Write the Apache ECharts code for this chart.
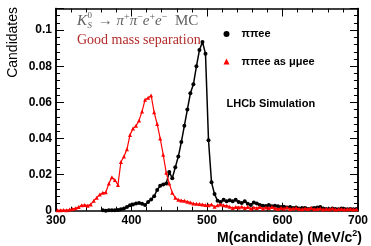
<!DOCTYPE html>
<html>
<head>
<meta charset="utf-8">
<script src="https://cdn.jsdelivr.net/npm/echarts@6/dist/echarts.min.js"></script>
<style>html,body{margin:0;padding:0;background:#fff;}#c{width:371px;height:246px;}</style>
</head>
<body>
<div id="c"></div>
<script>
// Histogram binning (MeV): 100 bins of 4 MeV from 300 to 700
const binLow = 300;
const binWidth = 4;
const xTicks = [300, 400, 500, 600, 700];
const yTicks = [0, 0.02, 0.04, 0.06, 0.08, 0.1];

// pi pi e e (black) - bins before ~360 are empty (not drawn)
const pipiee = [
  null, null, null, null, null, null, null, null, null, null,
  null, null, null, null, null,
  0.0002, 0.0000, 0.0003, 0.0002, 0.0003, 0.0004, 0.0008, 0.0012, 0.0020, 0.0030,
  0.0035, 0.0040, 0.0042, 0.0038, 0.0032, 0.0048, 0.0062, 0.0080, 0.0115, 0.0138,
  0.0145, 0.0150, 0.0215, 0.0180, 0.0240, 0.0300, 0.0380, 0.0470, 0.0560, 0.0650,
  0.0700, 0.0800, 0.0890, 0.0935, 0.0870, 0.0390, 0.0157, 0.0092, 0.0055, 0.0048,
  0.0060, 0.0052, 0.0058, 0.0052, 0.0060, 0.0048, 0.0042, 0.0052, 0.0038, 0.0032,
  0.0045, 0.0040, 0.0032, 0.0028, 0.0026, 0.0032, 0.0025, 0.0028, 0.0025, 0.0020,
  0.0022, 0.0018, 0.0020, 0.0015, 0.0018, 0.0012, 0.0015, 0.0015, 0.0010, 0.0012,
  0.0015, 0.0018, 0.0020, 0.0012, 0.0010, 0.0008, 0.0012, 0.0010, 0.0008, 0.0012,
  0.0010, 0.0008, 0.0010, 0.0008, 0.0010
];

// pi pi e e reconstructed as mu mu e e (red)
const pipieeAsMumuee = [
  0.0002, 0.0003, 0.0004, 0.0003, 0.0006, 0.0010, 0.0014, 0.0020, 0.0030, 0.0032,
  0.0028, 0.0035, 0.0055, 0.0072, 0.0090, 0.0100, 0.0102, 0.0150, 0.0185, 0.0170,
  0.0142, 0.0270, 0.0300, 0.0340, 0.0420, 0.0455, 0.0470, 0.0500, 0.0550, 0.0615,
  0.0625, 0.0638, 0.0545, 0.0480, 0.0400, 0.0310, 0.0210, 0.0150, 0.0100, 0.0072,
  0.0060, 0.0057, 0.0055, 0.0050, 0.0045, 0.0040, 0.0038, 0.0037, 0.0035, 0.0031,
  0.0030, 0.0035, 0.0022, 0.0030, 0.0035, 0.0030, 0.0028, 0.0022, 0.0015, 0.0020,
  0.0018, 0.0022, 0.0015, 0.0020, 0.0012, 0.0018, 0.0015, 0.0020, 0.0012, 0.0018,
  0.0015, 0.0020, 0.0014, 0.0010, 0.0015, 0.0012, 0.0018, 0.0010, 0.0012, 0.0015,
  0.0010, 0.0008, 0.0012, 0.0010, 0.0015, 0.0008, 0.0010, 0.0012, 0.0006, 0.0010,
  0.0008, 0.0012, 0.0006, 0.0008, 0.0010, 0.0006, 0.0008, 0.0010, 0.0006, 0.0008
];

const seriesNames = ['ππee', 'ππee as μμee'];

function toPoints(arr) {
  const pts = [];
  arr.forEach(function (v, i) {
    if (v !== null) pts.push([binLow + binWidth * (i + 0.5), v]);
  });
  return pts;
}

const chart = echarts.init(document.getElementById('c'), null, {renderer: 'canvas'});
const yMax = 0.112;
const sans = 'Liberation Sans';
const serif = 'Liberation Serif';
const lineCol = '#000';

function yAxisDef(pos, interval, showLabel, tickLen) {
  return {
    type: 'value', position: pos, min: 0, max: yMax, interval: interval,
    axisLine: {show: true, onZero: false, lineStyle: {color: lineCol, width: 1.5}},
    axisTick: {show: true, inside: true, length: tickLen, lineStyle: {color: lineCol, width: 1}},
    axisLabel: {
      show: showLabel, margin: 4, color: '#000', fontFamily: sans, fontWeight: 'bold', fontSize: 12,
      formatter: function (v) { return yTicks.some(function (t) { return Math.abs(t - v) < 1e-9; }) ? String(+v.toFixed(2)) : ''; }
    },
    splitLine: {show: false}
  };
}

function xAxisDef(pos, showLabel) {
  return {
    type: 'value', position: pos, min: xTicks[0], max: xTicks[xTicks.length - 1], interval: 100,
    axisLine: {show: true, onZero: false, lineStyle: {color: lineCol, width: 1.5}},
    axisTick: {show: true, inside: true, length: 8, lineStyle: {color: lineCol, width: 1}},
    minorTick: {show: true, splitNumber: 5, length: 4, lineStyle: {color: lineCol, width: 1}},
    axisLabel: {show: showLabel, margin: 4, color: '#000', fontFamily: sans, fontWeight: 'bold', fontSize: 12},
    splitLine: {show: false}, minorSplitLine: {show: false}
  };
}

const grey = '#606060';
const option = {
  animation: false,
  backgroundColor: '#fff',
  grid: {left: 56, top: 8.5, right: 8, bottom: 35.3, containLabel: false},
  xAxis: [xAxisDef('bottom', true), xAxisDef('top', false)],
  yAxis: [
    yAxisDef('left', 0.02, true, 8),
    yAxisDef('left', 0.004, false, 4),
    yAxisDef('right', 0.02, false, 8),
    yAxisDef('right', 0.004, false, 4)
  ],
  legend: {
    orient: 'vertical', left: 223.5, top: 28.5, itemGap: 16.5, padding: 0,
    itemWidth: 6, itemHeight: 6,
    textStyle: {fontFamily: sans, fontWeight: 'bold', fontSize: 11, color: '#000', padding: [0, 0, 0, 7]},
    data: [
      {name: seriesNames[0], icon: 'circle'},
      {name: seriesNames[1], icon: 'triangle'}
    ]
  },
  series: [
    {
      name: seriesNames[0], type: 'line', xAxisIndex: 0, yAxisIndex: 0,
      data: toPoints(pipiee), symbol: 'circle', symbolSize: 4, showAllSymbol: true,
      lineStyle: {color: '#000', width: 1.5}, itemStyle: {color: '#000'}, z: 3
    },
    {
      name: seriesNames[1], type: 'line', xAxisIndex: 0, yAxisIndex: 0,
      data: toPoints(pipieeAsMumuee), symbol: 'triangle', symbolSize: 4, showAllSymbol: true,
      lineStyle: {color: '#ff0000', width: 1.2}, itemStyle: {color: '#ff0000'}, z: 4
    }
  ],
  graphic: [
    {type: 'text', x: 77, y: 21, style: {text: 'K', font: 'italic 15px ' + serif, fill: grey, verticalAlign: 'middle'}},
    {type: 'text', x: 87.5, y: 16, style: {text: '0', font: '9px ' + serif, fill: grey, verticalAlign: 'middle'}},
    {type: 'text', x: 87.5, y: 26, style: {text: 'S', font: 'italic 9px ' + serif, fill: grey, verticalAlign: 'middle'}},
    {type: 'text', x: 94, y: 21, style: {
      text: '{n| → }{i|π}{s|+}{i|π}{s|−}{i|e}{s|+}{i|e}{s|−}{n|  MC}',
      fill: grey, verticalAlign: 'middle',
      rich: {
        n: {fontFamily: serif, fontSize: 15, lineHeight: 18, color: grey},
        i: {fontFamily: serif, fontStyle: 'italic', fontSize: 15, lineHeight: 18, color: grey},
        s: {fontFamily: serif, fontSize: 10, lineHeight: 10, verticalAlign: 'top', color: grey}
      }
    }},
    {type: 'text', x: 77, y: 40, style: {text: 'Good mass separation', font: '14px ' + serif, fill: '#b22a2a', verticalAlign: 'middle'}},
    {type: 'text', x: 226.5, y: 103.5, style: {text: 'LHCb Simulation', font: 'bold 11px ' + sans, fill: '#000', verticalAlign: 'middle'}},
    {type: 'text', x: 13.5, y: 7, rotation: Math.PI / 2, style: {text: 'Candidates', font: '14px ' + sans, fill: '#000', align: 'right', verticalAlign: 'middle'}},
    {type: 'text', x: 362, y: 238, style: {
      text: '{t|M(candidate) (MeV/c}{s|2}{t|)}', align: 'right', verticalAlign: 'middle',
      rich: {
        t: {fontFamily: sans, fontWeight: 'bold', fontSize: 14, lineHeight: 18, color: '#000'},
        s: {fontFamily: sans, fontWeight: 'bold', fontSize: 9, lineHeight: 10, verticalAlign: 'top', color: '#000'}
      }
    }}
  ]
};
chart.setOption(option);
</script>
</body>
</html>
